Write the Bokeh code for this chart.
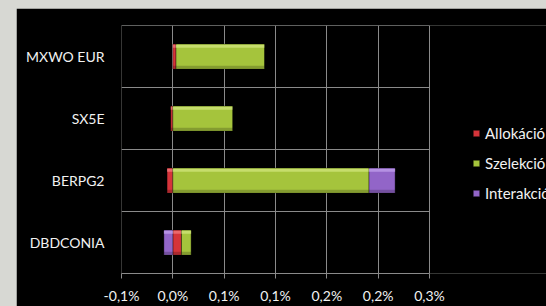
from bokeh.plotting import figure
from bokeh.models import (Range1d, FactorRange, FixedTicker, CustomJSTickFormatter,
                          Legend, LegendItem, ColumnDataSource)
from bokeh.embed import file_html
from bokeh.resources import INLINE

# ---- data (values in %) ----
categories = ["DBDCONIA", "BERPG2", "SX5E", "MXWO EUR"]   # bottom to top
allokacio = [0.0084, -0.0056, -0.0020, 0.0031]
szelekcio = [0.0094, 0.1911, 0.0585, 0.0864]
interakcio = [-0.0087, 0.0254, 0.0, 0.0]

series_names = ["Allokáció", "Szelekció", "Interakció"]
series_values = [allokacio, szelekcio, interakcio]
series_colors = ["#d5343a", "#a5c43c", "#9265c8"]
highlight_colors = ["#f07a7e", "#d2e67c", "#c0a0ec"]

tick_values = [-0.05, 0.0, 0.05, 0.10, 0.15, 0.20, 0.25]
tick_labels = ["-0,1%", "0,0%", "0,1%", "0,1%", "0,2%", "0,2%", "0,3%"]

TEXT = "#f2f2f2"
GRID = "#8a8a8a"
FONT = "Lato"

W, H = 530, 298
LEFT, TOP, BOTTOM = 105, 17, 33
AXIS_PX = 308  # pixel length of the value axis
x_lo, x_hi = tick_values[0], tick_values[-1]
x_end = x_lo + (x_hi - x_lo) * (W - LEFT) / AXIS_PX
BAR_H = 0.4

p = figure(width=W, height=H,
           x_range=Range1d(x_lo, x_end),
           y_range=FactorRange(factors=categories, range_padding=0),
           output_backend="svg", toolbar_location=None,
           min_border_left=LEFT, min_border_right=0,
           min_border_top=TOP, min_border_bottom=BOTTOM)
p.background_fill_color = "black"
p.border_fill_color = "black"
p.outline_line_color = None

# category boundary gridlines (horizontal), limited to the value-axis extent
n = len(categories)
p.segment(x0=[x_lo] * n, x1=[x_hi] * n, y0=list(range(1, n + 1)), y1=list(range(1, n + 1)),
          line_color=GRID, line_width=1)

# stacked bars: positives stack right, negatives stack left (Excel style)
pos_base = [0.0] * n
neg_base = [0.0] * n
renderers = []
for name, vals, col, hi in zip(series_names, series_values, series_colors, highlight_colors):
    left, right = [], []
    for i, v in enumerate(vals):
        if v >= 0:
            left.append(pos_base[i]); right.append(pos_base[i] + v); pos_base[i] += v
        else:
            right.append(neg_base[i]); left.append(neg_base[i] + v); neg_base[i] += v
    src = ColumnDataSource(dict(y=categories, left=left, right=right))
    r = p.hbar(y="y", left="left", right="right", height=BAR_H, source=src,
               fill_color=col, line_color="#000000", line_alpha=0.35)
    renderers.append((name, r))
    # bevel: lighter top strip, darker bottom strip
    top_src = ColumnDataSource(dict(y=[(c, BAR_H / 2 - 0.035) for c in categories],
                                    left=left, right=right))
    p.hbar(y="y", left="left", right="right", height=0.05, source=top_src,
           fill_color=hi, fill_alpha=0.75, line_color=None)
    bot_src = ColumnDataSource(dict(y=[(c, -BAR_H / 2 + 0.03) for c in categories],
                                    left=left, right=right))
    p.hbar(y="y", left="left", right="right", height=0.04, source=bot_src,
           fill_color="#000000", fill_alpha=0.2, line_color=None)

# x axis
p.xaxis.ticker = FixedTicker(ticks=tick_values)
p.xaxis.bounds = (x_lo, x_hi)
p.xaxis.formatter = CustomJSTickFormatter(
    args=dict(tvals=tick_values, tlabels=tick_labels),
    code="""
let best = 0, d = 1e9;
for (let i = 0; i < tvals.length; i++) {
  const dd = Math.abs(tvals[i] - tick);
  if (dd < d) { d = dd; best = i; }
}
return tlabels[best];
""")
p.xaxis.axis_line_color = GRID
p.xaxis.major_tick_line_color = GRID
p.xaxis.major_tick_out = 5
p.xaxis.major_tick_in = 0
p.xaxis.minor_tick_line_color = None
p.xaxis.major_label_standoff = 8
p.xaxis.major_label_text_color = TEXT
p.xaxis.major_label_text_font = FONT
p.xaxis.major_label_text_font_size = "14px"

# y axis
p.yaxis.axis_line_color = None
p.yaxis.major_tick_line_color = None
p.yaxis.minor_tick_line_color = None
p.yaxis.major_tick_out = 0
p.yaxis.major_label_standoff = 17
p.yaxis.major_label_text_color = TEXT
p.yaxis.major_label_text_font = FONT
p.yaxis.major_label_text_font_size = "14px"

# grid
p.xgrid.ticker = FixedTicker(ticks=tick_values)
p.xgrid.grid_line_color = GRID
p.ygrid.grid_line_color = None

legend = Legend(items=[LegendItem(label=nm, renderers=[r]) for nm, r in renderers],
                location=(351, 70), orientation="vertical",
                background_fill_alpha=0, border_line_color=None,
                label_text_color=TEXT, label_text_font=FONT,
                label_text_font_size="15px",
                glyph_width=8, glyph_height=8, label_height=20,
                spacing=10, padding=0, margin=0, label_standoff=5)
p.add_layout(legend)

html = file_html(p, INLINE, title="chart")
html = html.replace(
    "</head>",
    "<style>html,body{background:#d7d8d3;}body{margin:8px 0 0 16px;overflow:hidden;}</style></head>", 1)
open("out.html", "w").write(html)
